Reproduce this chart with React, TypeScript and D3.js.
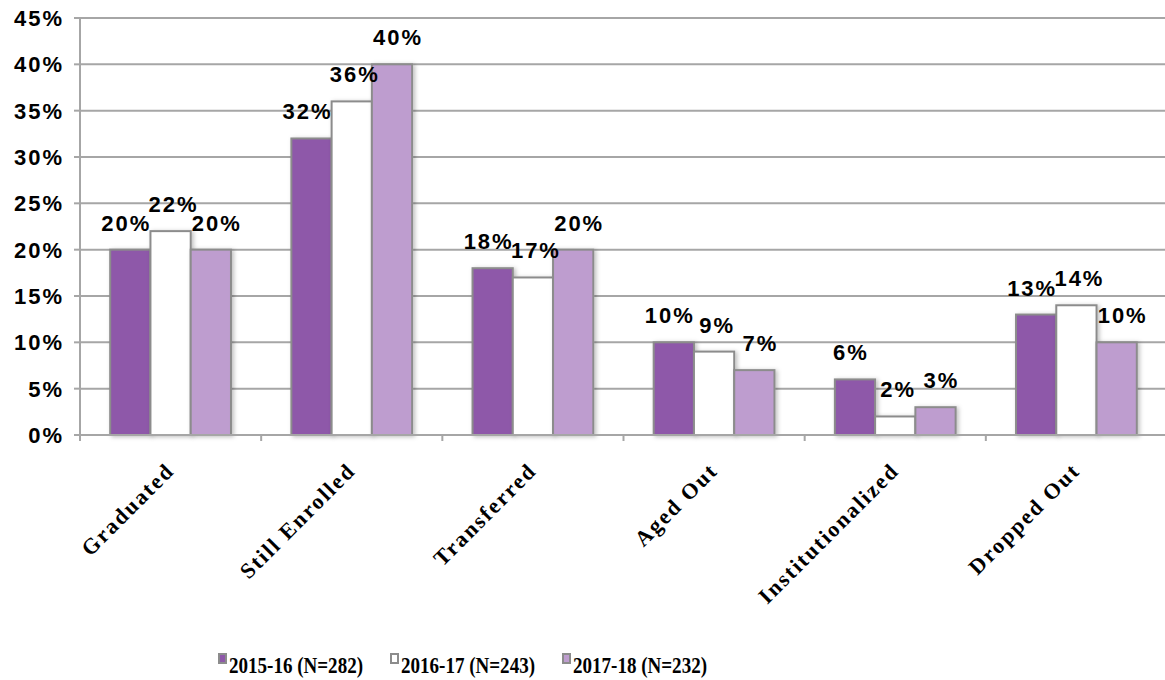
import React from "react";
import * as d3 from "d3";

const categories = ["Graduated", "Still Enrolled", "Transferred", "Aged Out", "Institutionalized", "Dropped Out"];
const seriesNames = ["2015-16 (N=282)", "2016-17 (N=243)", "2017-18 (N=232)"];
const values2015 = [20, 32, 18, 10, 6, 13];
const values2016 = [22, 36, 17, 9, 2, 14];
const values2017 = [20, 40, 20, 7, 3, 10];
const yTicks = [0, 5, 10, 15, 20, 25, 30, 35, 40, 45];
const seriesColors = ["#8E58A9", "#FFFFFF", "#BE9DCF"];

const W = 1165;
const H = 680;
const left = 80;
const right = 1167;
const top = 18;
const bottom = 435;

export default function App() {
  const seriesValues = [values2015, values2016, values2017];
  const y = d3.scaleLinear().domain([0, 45]).range([bottom, top]);
  const x0 = d3.scaleBand<string>().domain(categories).range([left, right]).padding(0);
  const x1 = d3
    .scaleBand<string>()
    .domain(seriesNames)
    .range([0, x0.bandwidth()])
    .paddingInner(0)
    .paddingOuter(0.75);
  const labelFont = "'Liberation Sans', Arial, sans-serif";
  const slabFont = "'Liberation Serif', 'Times New Roman', serif";
  const legendX = [218, 390, 562];
  const labelNudge = [-5, 2, 5];

  return (
    <svg width={W} height={H} style={{ position: "absolute", left: 0, top: 0, background: "#fff" }}>
      <defs>
        <filter id="shadow" x="-20%" y="-20%" width="150%" height="150%">
          <feDropShadow dx="2" dy="1" stdDeviation="2" floodColor="#000" floodOpacity="0.25" />
        </filter>
      </defs>
      {yTicks.filter((t) => t > 0).map((t) => (
        <line key={"g" + t} x1={left} x2={right} y1={y(t)} y2={y(t)} stroke="#A6A6A6" strokeWidth={2} />
      ))}
      {yTicks.map((t) => (
        <line key={"yt" + t} x1={left - 6} x2={left} y1={y(t)} y2={y(t)} stroke="#A6A6A6" strokeWidth={2} />
      ))}
      {categories.map((c, ci) =>
        seriesNames.map((s, si) => {
          const v = seriesValues[si][ci];
          const bx = (x0(c) as number) + (x1(s) as number);
          return (
            <rect
              key={c + s}
              x={bx}
              y={y(v)}
              width={x1.bandwidth()}
              height={y(0) - y(v)}
              fill={seriesColors[si]}
              stroke="#8C8C8C"
              strokeWidth={2}
              filter="url(#shadow)"
            />
          );
        })
      )}
      <line x1={left} x2={left} y1={top} y2={bottom} stroke="#A6A6A6" strokeWidth={2} />
      <line x1={left} x2={right} y1={bottom} y2={bottom} stroke="#A6A6A6" strokeWidth={2} />
      {categories.map((c) => (
        <line key={"xt" + c} x1={x0(c) as number} x2={x0(c) as number} y1={bottom} y2={bottom + 6} stroke="#A6A6A6" strokeWidth={2} />
      ))}
      {yTicks.map((t) => (
        <text
          key={"yl" + t}
          x={64}
          y={y(t) + 8}
          textAnchor="end"
          fontFamily={labelFont}
          fontWeight="bold"
          fontSize={22}
          letterSpacing={2}
          fill="#000"
        >
          {t + "%"}
        </text>
      ))}
      {categories.map((c, ci) =>
        seriesNames.map((s, si) => {
          const v = seriesValues[si][ci];
          const cx = (x0(c) as number) + (x1(s) as number) + x1.bandwidth() / 2;
          return (
            <text
              key={"dl" + c + s}
              x={cx + labelNudge[si] + 1}
              y={y(v) - 19}
              textAnchor="middle"
              fontFamily={labelFont}
              fontWeight="bold"
              fontSize={22}
              letterSpacing={2}
              fill="#000"
            >
              {v + "%"}
            </text>
          );
        })
      )}
      {categories.map((c) => {
        const cx = (x0(c) as number) + x0.bandwidth() / 2 + 5;
        const cy = bottom + 37;
        return (
          <text
            key={"cl" + c}
            transform={`translate(${cx},${cy}) rotate(-45)`}
            textAnchor="end"
            fontFamily={slabFont}
            fontWeight="bold"
            fontSize={22}
            letterSpacing={2}
            fill="#000"
          >
            {c}
          </text>
        );
      })}
      {seriesNames.map((s, si) => (
        <g key={"lg" + s}>
          <rect x={legendX[si] + 1} y={654} width={7} height={9} fill={seriesColors[si]} stroke="#8C8C8C" strokeWidth={2} />
          <text
            x={legendX[si] + 11}
            y={673}
            fontFamily={slabFont}
            fontWeight="bold"
            fontSize={24}
            textLength={134}
            lengthAdjust="spacingAndGlyphs"
            fill="#000"
          >
            {s}
          </text>
        </g>
      ))}
    </svg>
  );
}
